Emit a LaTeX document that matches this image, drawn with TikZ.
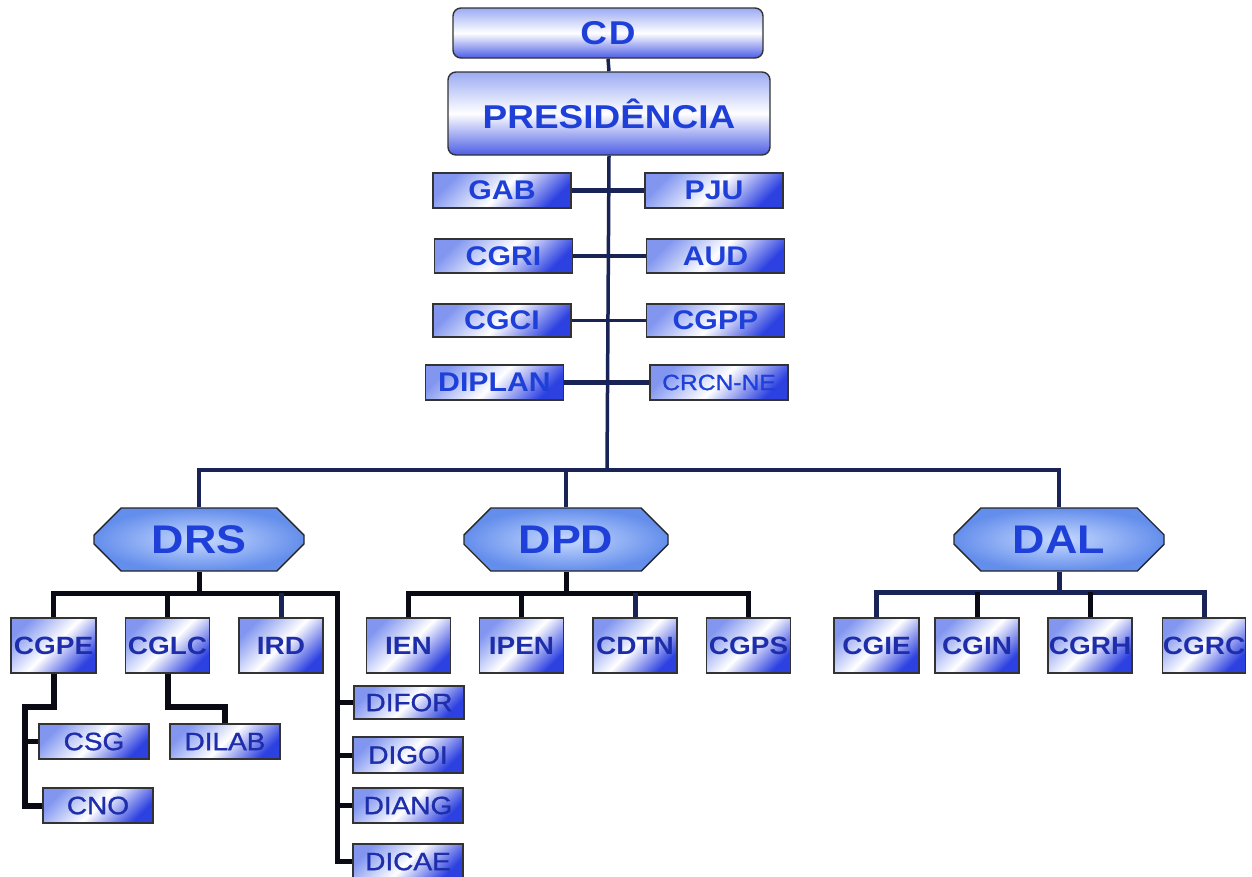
\documentclass[tikz,border=0pt]{standalone}
\usepackage{fontspec}
\setmainfont{Liberation Sans}[FakeStretch=1.12]
\newfontfamily\medfont{Liberation Sans}[FakeStretch=1.12, FakeBold=1.2]
\usetikzlibrary{shapes.misc}
\definecolor{txtA}{RGB}{30,64,216}
\definecolor{txtB}{RGB}{30,46,170}
\definecolor{lineA}{RGB}{25,35,85}
\definecolor{lineB}{RGB}{10,10,20}
\definecolor{shTop}{RGB}{130,150,240}
\definecolor{shBot}{RGB}{45,65,225}
\definecolor{octIn}{RGB}{200,218,255}
\definecolor{octOut}{RGB}{100,142,236}
\tikzset{
  every node/.style={inner sep=0pt},
  bigbox/.style={draw=black!80, line width=1.4pt, rounded corners=8pt,
    top color=shTop!80!white, bottom color=shBot!85!white, middle color=white,
    text=txtA, font=\bfseries\fontsize{33}{33}\selectfont},
  topbox/.style={draw=black!80, line width=1.4pt,
    top color=shTop, bottom color=shBot, middle color=white, shading angle=45,
    text=txtA, font=\bfseries\fontsize{27}{27}\selectfont,
    minimum width=138pt, minimum height=34pt},
  octo/.style={draw=black!85, line width=1.4pt, chamfered rectangle,
    chamfered rectangle xsep=20pt, chamfered rectangle ysep=13pt,
    inner color=octIn, outer color=octOut,
    text=txtA, font=\bfseries\fontsize{40}{40}\selectfont,
    minimum width=210pt, minimum height=63pt},
  unit/.style={draw=black!80, line width=1.4pt,
    top color=shTop, bottom color=shBot, middle color=white, shading angle=45,
    text=txtB, font=\bfseries\fontsize{25}{25}\selectfont,
    minimum width=84pt, minimum height=55pt},
  subbox/.style={draw=black!80, line width=1.4pt,
    top color=shTop, bottom color=shBot, middle color=white, shading angle=45,
    text=txtB, font=\medfont\fontsize{25}{25}\selectfont,
    minimum width=110pt, minimum height=35pt},
  linkA/.style={draw=lineA, line width=3.5pt},
  linkB/.style={draw=lineB, line width=5pt},
}
\begin{document}
\begin{tikzpicture}[x=1pt,y=-1pt]
\useasboundingbox[fill=white] (0,0) rectangle (1252,876);

\coordinate (bus) at (607,470);
\coordinate (pb) at (0,593);

\node[bigbox, minimum width=310pt, minimum height=50pt] (cd) at (608,33) {\addfontfeature{LetterSpace=6}CD};
\node[bigbox, minimum width=322pt, minimum height=83pt] (pres) at (609,113.5) {PRESIDÊNCIA};

\draw[linkA] (cd.south) -- (pres.north);
\draw[linkA] (pres.south) -- (bus);

\node[topbox, minimum height=35pt] (gab) at (502,190.5) {GAB};
\node[topbox, minimum height=35pt] (pju) at (714,190.5) {PJU};
\node[topbox] (cgri) at (503.5,256) {CGRI};
\node[topbox] (aud) at (715.5,256) {AUD};
\node[topbox, minimum height=33pt] (cgci) at (502,320.5) {CGCI};
\node[topbox, minimum height=33pt] (cgpp) at (715.5,320.5) {CGPP};
\node[topbox, minimum height=35pt] (diplan) at (494.5,382.5) {DIPLAN};
\node[topbox, minimum height=35pt, font=\medfont\fontsize{22}{22}\selectfont] (crcn) at (719,382.5) {CRCN-NE};

\draw[linkA, line width=4.5pt] (gab.east) -- (pju.west);
\draw[linkA, line width=4.5pt] (cgri.east) -- (aud.west);
\draw[linkA] (cgci.east) -- (cgpp.west);
\draw[linkA, line width=4.5pt] (diplan.east) -- (crcn.west);

% directorates
\node[octo] (drs) at (199,539.5) {DRS};
\node[octo, minimum width=204pt] (dpd) at (566,539.5) {DPD};
\node[octo] (dal) at (1059,539.5) {DAL};

\draw[linkA] (drs.north) |- (bus) -| (dal.north);
\draw[linkA] (dpd.north) -- (dpd.north |- bus);

% units row
\node[unit, minimum width=85pt] (cgpe) at (53.5,645.5) {CGPE};
\node[unit] (cglc) at (167.5,645.5) {CGLC};
\node[unit] (ird) at (281,645.5) {IRD};
\node[unit] (ien) at (408.5,645.5) {IEN};
\node[unit] (ipen) at (521.5,645.5) {IPEN};
\node[unit] (cdtn) at (635,645.5) {CDTN};
\node[unit] (cgps) at (748.5,645.5) {CGPS};
\node[unit, minimum width=85pt] (cgie) at (876.5,645.5) {CGIE};
\node[unit] (cgin) at (977,645.5) {CGIN};
\node[unit] (cgrh) at (1090,645.5) {CGRH};
\node[unit, minimum width=82pt] (cgrc) at (1204,645.5) {CGRC};

% sub units
\node[subbox] (csg) at (94,741.5) {CSG};
\node[subbox] (cno) at (98,805.5) {CNO};
\node[subbox] (dilab) at (225,741.5) {DILAB};
\node[subbox, minimum height=33pt] (difor) at (409,702.5) {DIFOR};
\node[subbox, minimum height=36pt] (digoi) at (408,755) {DIGOI};
\node[subbox] (diang) at (408,805.5) {DIANG};
\node[subbox] (dicae) at (408,861.5) {DICAE};

% DRS branch
\coordinate (rs) at (337,593);
\draw[linkB] (drs.south) -- (drs.south |- rs);
\draw[linkB] (cgpe.north) |- (rs) |- (dicae.west);
\draw[linkB] (cglc.north) -- (cglc.north |- rs);
\draw[linkB, draw=lineA] (ird.north) -- (ird.north |- rs);
\draw[linkB] (rs) |- (difor.west);
\draw[linkB] (rs) |- (digoi.west);
\draw[linkB] (rs) |- (diang.west);

\coordinate (cg) at (25,707);
\draw[linkB, line width=6pt] (cgpe.south) |- (cg) |- (cno.west);
\draw[linkB] (cg |- csg.west) -- (csg.west);
\draw[linkB, line width=6pt] (cglc.south) |- (dilab.north |- cg) -- (dilab.north);

% DPD branch
\draw[linkB] (dpd.south) -- (dpd.south |- pb);
\draw[linkB] (ien.north) |- (cgps.north |- pb) -- (cgps.north);
\draw[linkB] (ipen.north) -- (ipen.north |- pb);
\draw[linkB, draw=lineA] (cdtn.north) -- (cdtn.north |- pb);

% DAL branch
\coordinate (ab) at (0,592);
\draw[linkB, draw=lineA] (dal.south) -- (dal.south |- ab);
\draw[linkB, draw=lineA] (cgie.north) |- (cgrc.north |- ab) -- (cgrc.north);
\draw[linkB] (cgin.north) -- (cgin.north |- ab);
\draw[linkB] (cgrh.north) -- (cgrh.north |- ab);
\end{tikzpicture}
\end{document}
